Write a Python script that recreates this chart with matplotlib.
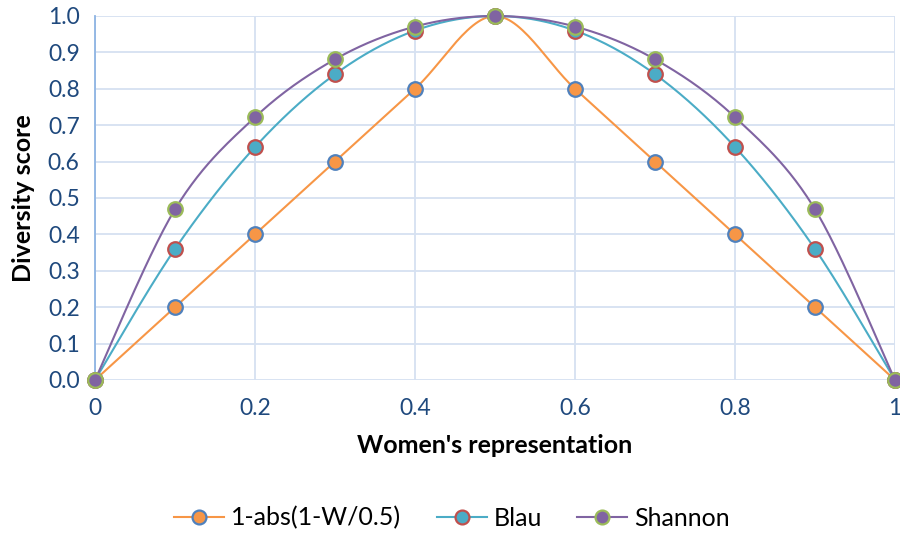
import numpy as np
import matplotlib
matplotlib.use("Agg")
import matplotlib.pyplot as plt
from matplotlib.lines import Line2D

plt.rcParams['font.family'] = ['Lato', 'DejaVu Sans']

w = [0.0, 0.1, 0.2, 0.3, 0.4, 0.5, 0.6, 0.7, 0.8, 0.9, 1.0]
linear = [0.0, 0.2, 0.4, 0.6, 0.8, 1.0, 0.8, 0.6, 0.4, 0.2, 0.0]
blau = [0.0, 0.36, 0.64, 0.84, 0.96, 1.0, 0.96, 0.84, 0.64, 0.36, 0.0]
shannon = [0.0, 0.469, 0.722, 0.881, 0.971, 1.0, 0.971, 0.881, 0.722, 0.469, 0.0]

names = ['1-abs(1-W/0.5)', 'Blau', 'Shannon']
line_colors = ['#F79646', '#4BACC6', '#8064A2']
edge_colors = ['#4F81BD', '#C0504D', '#9BBB59']


def smooth(x, y, n=30):
    # excel-like smoothed line (bezier through the points)
    x = np.asarray(x, float)
    y = np.asarray(y, float)
    px = np.concatenate([[x[0]], x, [x[-1]]])
    py = np.concatenate([[y[0]], y, [y[-1]]])
    xs, ys = [], []
    t = np.linspace(0, 1, n)
    for i in range(1, len(px) - 2):
        p0 = np.array([px[i], py[i]])
        p3 = np.array([px[i + 1], py[i + 1]])
        p1 = p0 + (p3 - np.array([px[i - 1], py[i - 1]])) / 6
        p2 = p3 - (np.array([px[i + 2], py[i + 2]]) - p0) / 6
        b = ((1 - t) ** 3)[:, None] * p0 + (3 * (1 - t) ** 2 * t)[:, None] * p1 \
            + (3 * (1 - t) * t ** 2)[:, None] * p2 + (t ** 3)[:, None] * p3
        xs.extend(b[:, 0])
        ys.extend(b[:, 1])
    return xs, ys


fig = plt.figure(figsize=(9, 5.38), dpi=100)
ax = fig.add_axes([95 / 900, 1 - 380 / 538, 800 / 900, 364 / 538])

handles = []
for k, vals in enumerate([linear, blau, shannon]):
    sx, sy = smooth(w, vals)
    ax.plot(sx, sy, color=line_colors[k], lw=1.5, zorder=3 + k, clip_on=False)
    ax.plot(w, vals, 'o', ms=10.5, mfc=line_colors[k], mec=edge_colors[k], mew=1.6,
            zorder=3.5 + k, clip_on=False)
    handles.append(Line2D([], [], color=line_colors[k], lw=1.5, marker='o', ms=10,
                          mfc=line_colors[k], mec=edge_colors[k], mew=1.6))

ax.set_xlim(0, 1)
ax.set_ylim(0, 1)
ax.set_xticks([0, 0.2, 0.4, 0.6, 0.8, 1.0])
ax.set_xticklabels(['0', '0.2', '0.4', '0.6', '0.8', '1'])
ax.set_yticks(np.arange(0, 1.01, 0.1))
ax.set_yticklabels(['%.1f' % v for v in np.arange(0, 1.01, 0.1)])
ax.grid(True, color='#D6E1F1', lw=1.3)
ax.set_axisbelow(True)
for s in ['top', 'right', 'bottom']:
    ax.spines[s].set_visible(False)
ax.spines['left'].set_color('#8EB4E3')
ax.spines['left'].set_linewidth(1.3)
ax.tick_params(length=0, labelsize=16.5, labelcolor='#1F497D')
ax.tick_params(axis='x', pad=13)
ax.tick_params(axis='y', pad=11)

ax.set_xlabel("Women's representation", fontsize=18, fontweight='bold', labelpad=11)
ax.set_ylabel('Diversity score', fontsize=18, fontweight='bold', labelpad=9)

fig.legend(handles, names, loc='center', bbox_to_anchor=(452 / 900, 1 - 518 / 538), ncol=3,
           frameon=False, fontsize=18, handlelength=2.0, columnspacing=1.4,
           handletextpad=0.28)

fig.savefig('out.png', dpi=100)
